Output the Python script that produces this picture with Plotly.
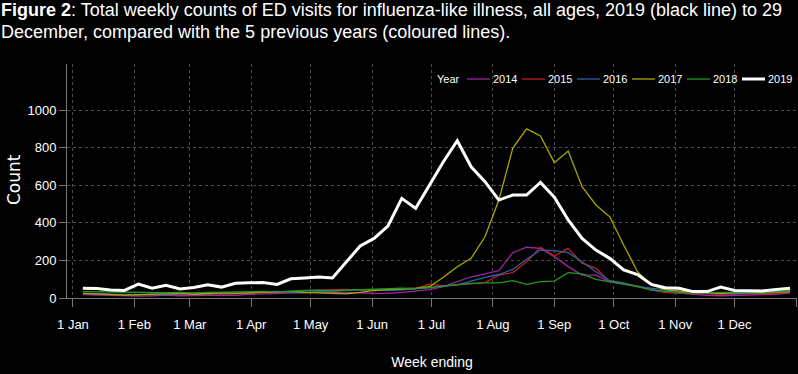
import plotly.graph_objects as go
import pandas as pd

# Week-ending dates (Sundays) of 2019
week_ending = pd.date_range("2019-01-06", periods=52, freq="7D")

years = ["2014", "2015", "2016", "2017", "2018", "2019"]

y2014 = [18, 15, 14, 12, 10, 12, 15, 12, 14, 18, 16, 14, 20, 22, 25,
         28, 30, 32, 30, 30, 28, 25, 25, 30, 38, 45,
         60, 87, 113, 128, 145, 241, 270, 264, 220, 167, 122, 122, 87, 78, 60, 46,
         32, 25, 18, 14, 12, 15, 14, 18, 20, 28]
y2015 = [22, 20, 18, 16, 14, 18, 20, 22, 18, 20, 24, 22, 26, 28, 30,
         35, 40, 42, 45, 46, 42, 40, 42, 45, 50, 74,
         64, 70, 75, 82, 122, 135, 193, 270, 223, 264, 185, 158, 87, 74, 65, 43,
         30, 28, 25, 22, 20, 22, 24, 22, 25, 30]
y2016 = [25, 22, 20, 18, 16, 20, 18, 22, 25, 22, 24, 28, 30, 32, 35,
         30, 28, 32, 35, 38, 45, 42, 40, 44, 48, 55,
         62, 70, 90, 110, 125, 152, 206, 255, 252, 241, 193, 140, 92, 81, 60, 51,
         40, 35, 30, 25, 28, 22, 26, 28, 32, 35]
y2017 = [25, 22, 20, 15, 18, 20, 22, 25, 20, 24, 28, 25, 28, 30, 32,
         35, 30, 28, 25, 22, 30, 40, 45, 48, 52, 60,
         110, 166, 211, 326, 521, 796, 900, 862, 720, 782, 592, 495, 432, 282, 140, 69,
         45, 38, 32, 28, 25, 28, 30, 27, 30, 34]
y2018 = [34, 33, 30, 28, 27, 25, 28, 30, 27, 30, 32, 30, 33, 35, 33,
         38, 40, 42, 38, 42, 45, 48, 50, 52, 50, 55,
         65, 72, 78, 80, 81, 92, 73, 87, 90, 135, 128, 99, 87, 74, 60, 42,
         34, 30, 28, 27, 30, 32, 30, 28, 33, 40]
y2019 = [52, 50, 42, 40, 74, 52, 68, 48, 56, 70, 58, 78, 81, 82, 72,
         102, 107, 112, 107, 190, 277, 317, 383, 530, 477,
         601, 725, 837, 698, 619, 521, 548, 548, 615, 536, 415, 317, 255, 211, 150,
         125, 72, 55, 52, 34, 34, 58, 40, 40, 37, 45, 52]

series = [y2014, y2015, y2016, y2017, y2018, y2019]
colors = ["#a324a3", "#c0201e", "#2a62ad", "#aaa800", "#1f9a22", "#ffffff"]
widths = [1.3, 1.3, 1.3, 1.3, 1.3, 3]

tick_dates = ["2019-%02d-01" % m for m in range(1, 13)] + ["2020-01-01"]
tick_text = ["1 Jan", "1 Feb", "1 Mar", "1 Apr", "1 May", "1 Jun", "1 Jul",
             "1 Aug", "1 Sep", "1 Oct", "1 Nov", "1 Dec", ""]
y_ticks = [0, 200, 400, 600, 800, 1000]

title_lines = [
    "<b>Figure 2</b>: Total weekly counts of ED visits for influenza-like illness, all ages, 2019 (black line) to 29",
    "December, compared with the 5 previous years (coloured lines).",
]

FONT = "Liberation Sans, Arial, sans-serif"

# layout geometry (pixels)
W, H = 798, 374
ML, MR, MT, MB = 67, 1, 64, 76
PW, PH = W - ML - MR, H - MT - MB


def px_x(px):
    return (px - ML) / PW


def px_y(py):
    return (H - MB - py) / PH


fig = go.Figure()
for name, vals, col, w in zip(years, series, colors, widths):
    fig.add_trace(go.Scatter(x=week_ending, y=vals, mode="lines", name=name,
                             line=dict(color=col, width=w), showlegend=False))

annotations = []
shapes = []
# title lines
for txt, cy in zip(title_lines, [10, 32]):
    annotations.append(dict(text=txt, xref="paper", yref="paper", x=px_x(-1), y=px_y(cy),
                            xanchor="left", yanchor="middle", showarrow=False,
                            font=dict(family=FONT, size=18, color="white")))

# y-axis title
annotations.append(dict(text="Count", xref="paper", yref="paper", x=px_x(14), y=px_y(180),
                        xanchor="center", yanchor="middle", showarrow=False, textangle=-90,
                        font=dict(family="DejaVu Sans, Verdana, sans-serif", size=17, color="white")))

# compact legend
leg_y = px_y(79)
annotations.append(dict(text="Year", xref="paper", yref="paper", x=px_x(435), y=leg_y,
                        xanchor="left", yanchor="middle", showarrow=False,
                        font=dict(family=FONT, size=11, color="white")))
leg_x0 = 467
for i, (name, col, w) in enumerate(zip(years, colors, widths)):
    x0 = leg_x0 + 55 * i
    shapes.append(dict(type="line", xref="paper", yref="paper",
                       x0=px_x(x0), x1=px_x(x0 + 23), y0=leg_y, y1=leg_y,
                       line=dict(color=col, width=w)))
    annotations.append(dict(text=name, xref="paper", yref="paper", x=px_x(x0 + 24), y=leg_y,
                            xanchor="left", yanchor="middle", showarrow=False,
                            font=dict(family=FONT, size=11, color="white")))

fig.update_layout(
    width=W, height=H,
    paper_bgcolor="black", plot_bgcolor="black",
    margin=dict(l=ML, r=MR, t=MT, b=MB, autoexpand=False),
    showlegend=False,
    annotations=annotations,
    shapes=shapes,
)

fig.update_xaxes(
    type="date", automargin=False,
    range=["2018-12-29", "2020-01-01 12:00"],
    tickmode="array", tickvals=tick_dates, ticktext=tick_text,
    showgrid=True, gridcolor="#4a4a4a", griddash="dot", gridwidth=1,
    showline=True, linecolor="#777777", linewidth=1,
    ticks="outside", ticklen=8, tickcolor="#777777",
    ticklabelstandoff=6,
    tickfont=dict(family=FONT, size=13, color="white"),
    title=dict(text="Week ending", font=dict(family=FONT, size=14, color="white"), standoff=26),
    zeroline=False,
)
fig.update_yaxes(
    automargin=False,
    range=[0, 1245],
    tickmode="array", tickvals=y_ticks,
    showgrid=True, gridcolor="#4a4a4a", griddash="dot", gridwidth=1,
    showline=True, linecolor="#777777", linewidth=1,
    ticks="outside", ticklen=7, tickcolor="#777777",
    tickfont=dict(family=FONT, size=13, color="white"),
    zeroline=False,
)

fig.write_html("out.html",
               config={"displayModeBar": False},
               post_script="document.body.style.margin='0';document.body.style.background='black';")
